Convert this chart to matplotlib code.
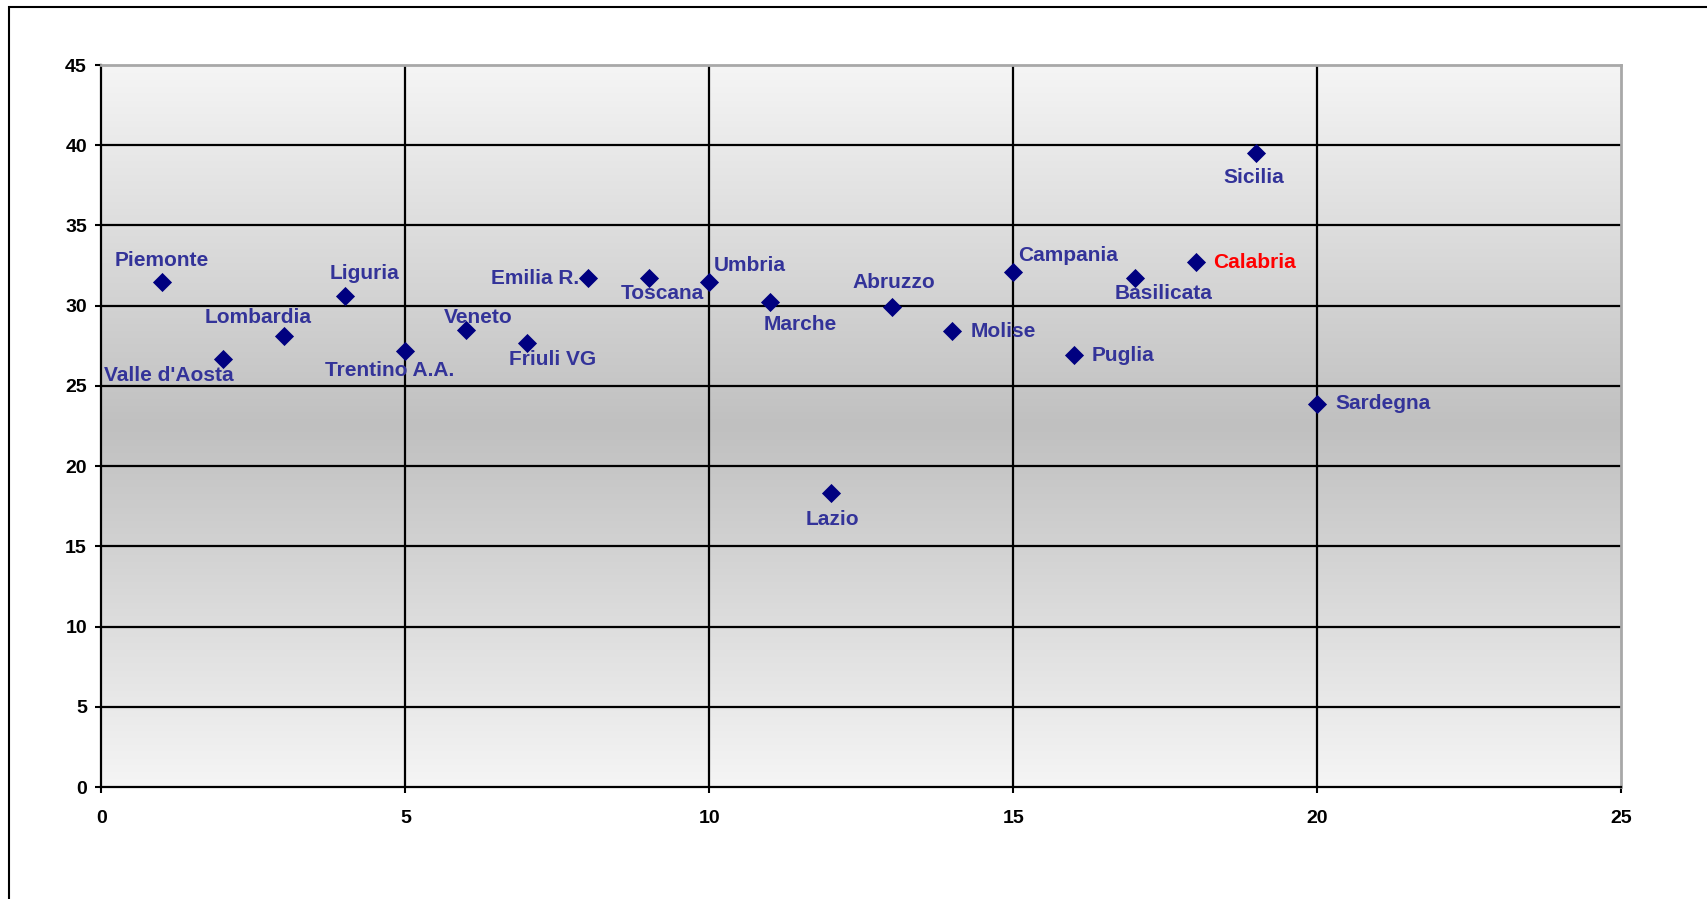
import numpy as np
import matplotlib.pyplot as plt
from matplotlib.colors import LinearSegmentedColormap
from matplotlib.patches import Rectangle

plt.rcParams['font.family'] = ['Liberation Sans', 'DejaVu Sans']

# Dati
regioni = ["Piemonte", "Valle d'Aosta", "Lombardia", "Liguria", "Trentino A.A.",
           "Veneto", "Friuli VG", "Emilia R.", "Toscana", "Umbria", "Marche",
           "Lazio", "Abruzzo", "Molise", "Campania", "Puglia", "Basilicata",
           "Calabria", "Sicilia", "Sardegna"]
posizione = list(range(1, 21))
valori = [31.5, 26.7, 28.1, 30.6, 27.2, 28.5, 27.7, 31.7, 31.7, 31.5, 30.2,
          18.3, 29.9, 28.4, 32.1, 26.9, 31.7, 32.7, 39.5, 23.9]
x_ticks = [0, 5, 10, 15, 20, 25]
y_ticks = [0, 5, 10, 15, 20, 25, 30, 35, 40, 45]

# Posizione delle etichette (offset in pixel, allineamento orizzontale)
offset_etichette = {
    "Piemonte": (-1, 21, 'center'), "Valle d'Aosta": (-54, -17, 'center'),
    "Lombardia": (-26, 19, 'center'), "Liguria": (20, 23, 'center'),
    "Trentino A.A.": (-16, -20, 'center'), "Veneto": (12, 12, 'center'),
    "Friuli VG": (26, -17, 'center'), "Emilia R.": (-9, 0, 'right'),
    "Toscana": (14, -15, 'center'), "Umbria": (4, 16, 'left'),
    "Marche": (30, -22, 'center'), "Lazio": (2, -26, 'center'),
    "Abruzzo": (2, 25, 'center'), "Molise": (18, 0, 'left'),
    "Campania": (5, 16, 'left'), "Puglia": (18, 0, 'left'),
    "Basilicata": (29, -15, 'center'), "Calabria": (18, 0, 'left'),
    "Sicilia": (-3, -24, 'center'), "Sardegna": (18, 0, 'left'),
}

fig = plt.figure(figsize=(17.08, 8.99), dpi=100)
ax = fig.add_axes([101.5 / 1708, 1 - 787 / 899, (1621 - 101.5) / 1708, (787 - 65) / 899])

# sfondo sfumato (chiaro ai bordi, grigio al centro)
cmap = LinearSegmentedColormap.from_list("sfondo", ["#f5f5f5", "#c0c0c0", "#f5f5f5"])
grad = np.linspace(0, 1, 256).reshape(-1, 1)
ax.imshow(grad, cmap=cmap, aspect='auto', extent=[0, 1, 0, 1],
          transform=ax.transAxes, zorder=0)

ax.set_xlim(0, 25)
ax.set_ylim(0, 45)
ax.set_xticks(x_ticks)
ax.set_yticks(y_ticks)

for v in y_ticks[1:-1]:
    ax.axhline(v, color='black', lw=1.6, zorder=1)
for v in x_ticks[1:-1]:
    ax.axvline(v, color='black', lw=1.6, zorder=1)

ax.scatter(posizione, valori, marker='D', s=95, color='#000080', zorder=3,
           linewidths=0)

for nome, x, y in zip(regioni, posizione, valori):
    dx, dy, ha = offset_etichette[nome]
    colore = 'red' if nome == "Calabria" else '#333399'
    ax.annotate(nome, (x, y), xytext=(dx, dy), textcoords='offset pixels',
                ha=ha, va='center', fontsize=15, fontweight='bold',
                color=colore, zorder=4)

for lato in ['left', 'bottom']:
    ax.spines[lato].set_color('black')
    ax.spines[lato].set_linewidth(1.6)
for lato in ['top', 'right']:
    ax.spines[lato].set_color('#a8a8a8')
    ax.spines[lato].set_linewidth(2)

ax.tick_params(axis='both', direction='out', length=4.5, width=1.5,
               labelsize=14)
ax.tick_params(axis='y', pad=6)
ax.tick_params(axis='x', pad=12)
for lab in ax.get_xticklabels() + ax.get_yticklabels():
    lab.set_fontweight('bold')

# bordo esterno del grafico
fig.patches.append(Rectangle((9 / 1708, -0.1), 1.2, 1.1 - 7 / 899 + 0.0,
                             transform=fig.transFigure, fill=False,
                             edgecolor='black', lw=1.5))

fig.savefig("out.png", dpi=100)
